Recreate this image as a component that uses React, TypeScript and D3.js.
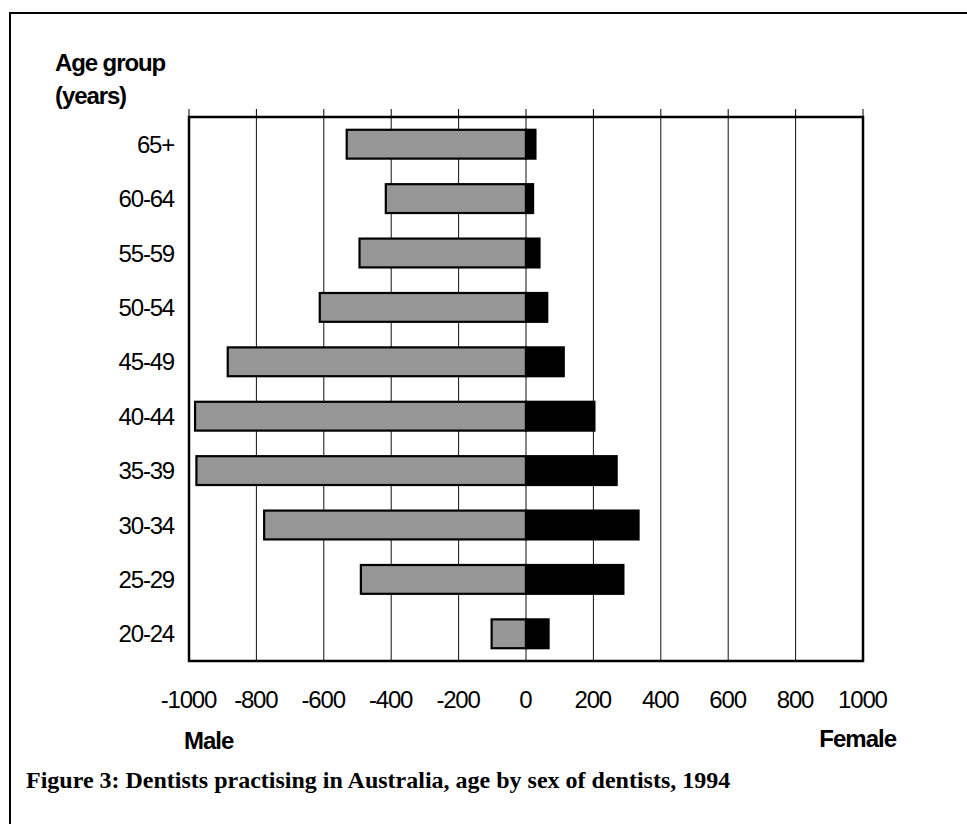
import React from "react";
import * as d3 from "d3";

const categories = ["65+", "60-64", "55-59", "50-54", "45-49", "40-44", "35-39", "30-34", "25-29", "20-24"];
const maleValues = [-532, -416, -494, -612, -885, -982, -978, -777, -490, -102];
const femaleValues = [28, 21, 40, 63, 112, 203, 269, 334, 289, 67];
const xTicks = [-1000, -800, -600, -400, -200, 0, 200, 400, 600, 800, 1000];

const W = 967;
const H = 824;
const plot = { left: 189, right: 863, top: 117, bottom: 661 };
const sans = "'Liberation Sans', Arial, sans-serif";
const serif = "'Liberation Serif', 'Times New Roman', serif";

export default function App() {
  const x = d3.scaleLinear().domain([-1000, 1000]).range([plot.left, plot.right]);
  const y = d3
    .scaleBand<string>()
    .domain(categories)
    .range([plot.top, plot.bottom])
    .paddingInner(0.47)
    .paddingOuter(0.235);
  const bw = y.bandwidth();

  return (
    <svg
      width={W}
      height={H}
      style={{ position: "absolute", left: 0, top: 0, background: "#fff" }}
    >
      <rect x={0} y={0} width={W} height={H} fill="#fff" />
      {/* outer border (top and left visible) */}
      <path d={`M10,${H + 5} L10,13 L${W + 5},13`} fill="none" stroke="#000" strokeWidth={2} />

      {/* gridlines */}
      {xTicks.slice(1, -1).map((t) => (
        <line key={"g" + t} x1={x(t)} x2={x(t)} y1={plot.top} y2={plot.bottom} stroke="#111" strokeWidth={1} />
      ))}
      {/* top tick marks */}
      {xTicks.map((t) => (
        <line key={"t" + t} x1={x(t)} x2={x(t)} y1={plot.top - 8} y2={plot.top} stroke="#000" strokeWidth={1} />
      ))}

      {/* bars */}
      {categories.map((c, i) => (
        <g key={c}>
          <rect
            x={x(maleValues[i])}
            y={y(c)}
            width={x(0) - x(maleValues[i])}
            height={bw}
            fill="#969696"
            stroke="#000"
            strokeWidth={2.2}
          />
          <rect
            x={x(0)}
            y={y(c)}
            width={x(femaleValues[i]) - x(0)}
            height={bw}
            fill="#000"
            stroke="#000"
            strokeWidth={2.2}
          />
        </g>
      ))}

      {/* frame */}
      <rect
        x={plot.left}
        y={plot.top}
        width={plot.right - plot.left}
        height={plot.bottom - plot.top}
        fill="none"
        stroke="#000"
        strokeWidth={2.5}
      />

      {/* category labels */}
      {categories.map((c) => (
        <text
          key={"l" + c}
          x={174}
          y={(y(c) as number) + bw / 2 + 8.6}
          textAnchor="end"
          fontFamily={sans}
          fontSize={24}
          letterSpacing={-1.2}
          fill="#000"
        >
          {c}
        </text>
      ))}

      {/* x tick labels */}
      {xTicks.map((t) => (
        <text
          key={"xl" + t}
          x={x(t) - 0.6}
          y={708}
          textAnchor="middle"
          fontFamily={sans}
          fontSize={24}
          letterSpacing={-1.2}
          fill="#000"
        >
          {t}
        </text>
      ))}

      {/* axis title */}
      <text x={55} y={71} fontFamily={sans} fontSize={24} fontWeight="bold" letterSpacing={-1.1} fill="#000">
        Age group
      </text>
      <text x={55} y={104} fontFamily={sans} fontSize={24} fontWeight="bold" letterSpacing={-1.1} fill="#000">
        (years)
      </text>

      <text x={184} y={749} fontFamily={sans} fontSize={24} fontWeight="bold" letterSpacing={-1} fill="#000">
        Male
      </text>
      <text x={896} y={747} textAnchor="end" fontFamily={sans} fontSize={24} fontWeight="bold" letterSpacing={-1} fill="#000">
        Female
      </text>

      <text x={26} y={788} fontFamily={serif} fontSize={24} fontWeight="bold" fill="#000">
        Figure 3: Dentists practising in Australia, age by sex of dentists, 1994
      </text>
    </svg>
  );
}
